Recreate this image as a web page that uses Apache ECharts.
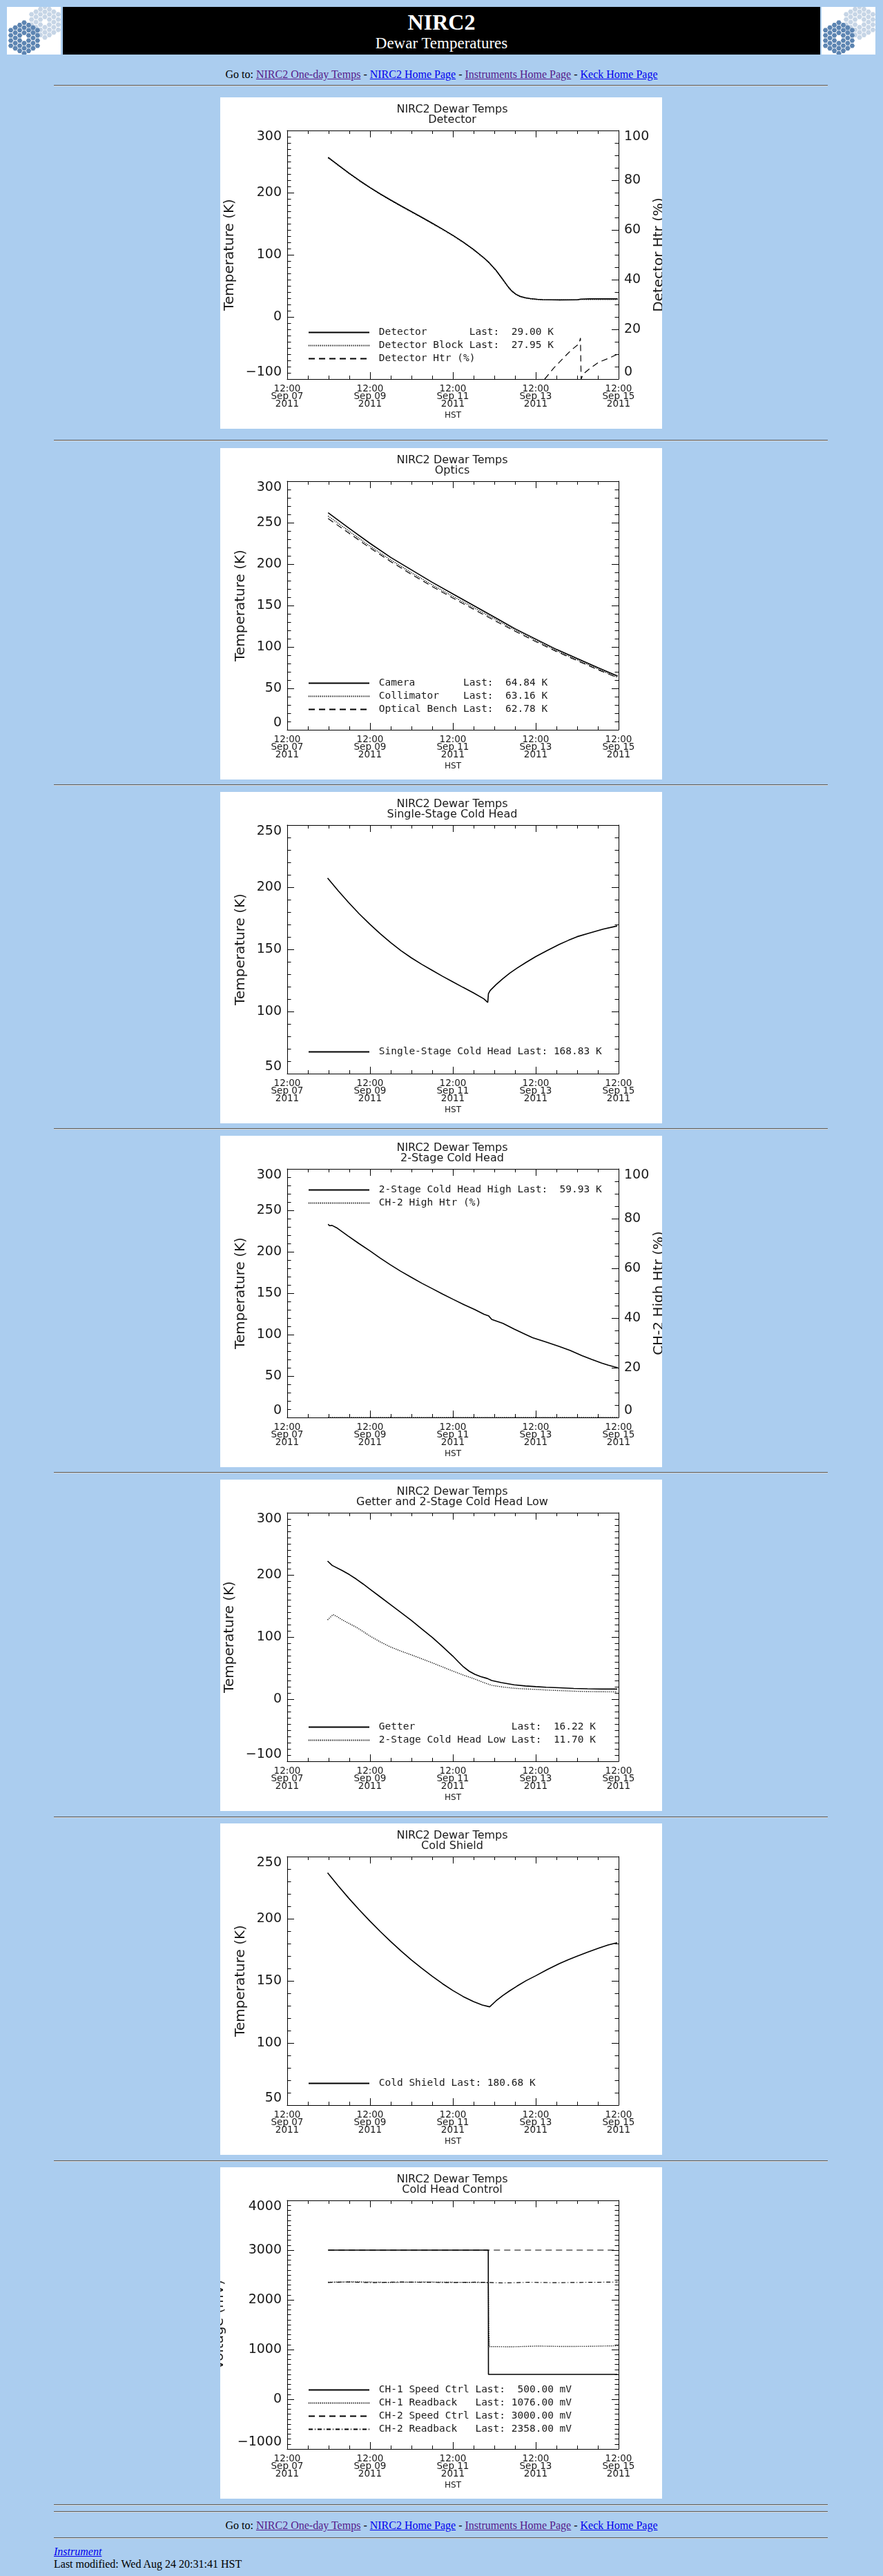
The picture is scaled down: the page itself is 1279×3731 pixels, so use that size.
<!DOCTYPE html>
<html lang="en">
<head>
<meta charset="utf-8">
<title>NIRC2 Dewar Temperatures</title>
<script src="https://cdn.jsdelivr.net/npm/echarts@6.0.0/dist/echarts.min.js"></script>
<style>
  body { margin:0; background:#abcdef; font-family:"Liberation Serif","Times New Roman",serif; font-size:16px; }
  .abs { position:absolute; }
  .hr { position:absolute; left:78px; width:1121px; height:0; border-top:1px solid #5a5a5a; border-bottom:1px solid #d8d8d8; }
  .nav { position:absolute; left:0; width:1279px; text-align:center; line-height:20px; }
  a { color:#0000ee; }
  a.v { color:#551a8b; }
  .logo { position:absolute; top:10px; width:78px; height:69px; background:#fff; overflow:hidden; }
  .chart { position:absolute; left:319px; width:640px; height:480px; background:#fff; }
</style>
</head>
<body>
<div class="logo" style="left:10px"></div>
<div class="abs" style="left:91px;top:10px;width:1097px;height:69px;background:#000;color:#fff;text-align:center">
  <div class="abs" style="left:0;right:0;top:4px;font-size:32px;font-weight:bold;line-height:36px">NIRC2</div>
  <div class="abs" style="left:0;right:0;top:40px;font-size:23px;line-height:26px">Dewar Temperatures</div>
</div>
<div class="logo" style="left:1190px"></div>

<div class="nav" style="top:98px">Go to: <a class="v" href="#">NIRC2 One-day Temps</a> - <a href="#">NIRC2 Home Page</a> - <a class="v" href="#">Instruments Home Page</a> - <a href="#">Keck Home Page</a></div>
<div class="hr" style="top:123px"></div>

<div id="charts"></div>

<div class="hr" style="top:3627px"></div>
<div class="hr" style="top:3637px"></div>
<div class="nav" style="top:3648px">Go to: <a class="v" href="#">NIRC2 One-day Temps</a> - <a href="#">NIRC2 Home Page</a> - <a class="v" href="#">Instruments Home Page</a> - <a href="#">Keck Home Page</a></div>
<div class="hr" style="top:3675px"></div>
<div class="abs" style="left:78px;top:3686px;line-height:20px"><a href="#"><i>Instrument</i></a></div>
<div class="abs" style="left:78px;top:3704px;line-height:20px">Last modified: Wed Aug 24 20:31:41 HST</div>

<script type="text/javascript">
// time is in hours after 12:00 Sep 07 2011 (HST)
var detectorT = [[23.7,256.7],[30,243.5],[36,231],[42,219.2],[48,208.2],[54,197.8],[60,188],[66,178.6],[72,169.4],[78,160.2],[84,150.9],[90,141.3],[96,131.3],[102,120.5],[108,108.5],[114,95],[117,87.3],[121,75],[125,60],[128,48.5],[130,42],[132.5,36.5],[135,33],[138,30.8],[141,29.5],[145,28.3],[148,27.8],[158,27.4],[168,27.5],[170,28.6],[175,29],[191.5,29]];
var detectorBlockT = [[23.7,256],[30,242.9],[36,230.4],[42,218.6],[48,207.6],[54,197.2],[60,187.4],[66,178],[72,168.8],[78,159.6],[84,150.3],[90,140.7],[96,130.7],[102,119.9],[108,107.9],[114,94.5],[117,86.8],[121,74.5],[125,59.5],[128,48],[130,41.5],[132.5,36],[135,32.5],[138,30.3],[141,29],[145,27.9],[148,27.5],[158,27.3],[168,27.4],[170,27.9],[191.5,27.95]];
var detectorHtr = [[149.2,0],[154.4,4.4],[160.9,9.1],[165,11.9],[169.1,14.2],[169.9,16.5],[170.3,0],[171.6,2.1],[176,4.6],[180.6,6.8],[187.1,8.6],[192,10.2]];
var detectorLast = [29.00, 27.95];

var cameraT = [[23.7,262],[36,243],[48,225],[60,208],[72,193],[84,178],[96,164],[108,150],[120,136],[132,122],[144,109.5],[156,97],[168,86],[180,75],[191.5,64.84]];
var collimatorT = [[23.7,258],[36,239.5],[48,221.5],[60,205],[72,189.5],[84,175],[96,161],[108,147.5],[120,134],[132,120.5],[144,108],[156,95.5],[168,84.5],[180,73.5],[191.5,63.16]];
var benchT = [[23.7,255],[36,237],[48,219.5],[60,203],[72,187.5],[84,173],[96,159],[108,145.5],[120,132],[132,119],[144,106.5],[156,94.5],[168,83.5],[180,72.5],[191.5,62.78]];
var opticsLast = [64.84, 63.16, 62.78];

var singleStageT = [[23.4,207.3],[29.5,197.2],[35.6,187.6],[41.7,178.6],[47.9,170.2],[53.9,162.6],[59.9,155.5],[65.9,149],[71.9,143.2],[77.9,138],[83.9,133.2],[89.9,128.4],[95.9,123.9],[101.9,119.4],[107.9,115],[113.9,110.2],[116.2,107.3],[116.6,114.4],[117.6,116.9],[121,121.6],[125,126.5],[129,130.9],[133.2,134.9],[138.5,139.6],[144,144.2],[150.8,149.2],[157.7,154],[163,157.3],[168,160.2],[175,163],[183,166.2],[191.2,168.83]];
var singleStageLast = [168.83];

var twoStageHighT = [[23.7,233.2],[24.5,231.5],[26,231.8],[28.6,229],[35.1,219.3],[41.5,210],[47.9,201.2],[53.7,192.6],[59.6,184.5],[65.7,176.6],[71.9,169.2],[78,162],[84.2,155.3],[90,149],[95.9,142.8],[102.3,136.3],[108.7,130.2],[114,124.6],[116.8,122.4],[118.5,118.3],[125,113.5],[131.5,106.6],[137,101.2],[142.2,96.3],[150,91],[157.7,85.7],[164,80.8],[170.8,74.6],[176.5,70],[182.2,65.7],[186,63.2],[190.4,60.7],[191.5,59.93]];
var ch2HighHtr = [[23.7,0],[191.5,0]];
var twoStageHighLast = [59.93];

var getterT = [[23.4,222.2],[26.1,215.1],[31.9,207],[36,200.5],[40,193.3],[44,185.3],[47.9,177.2],[53.7,165],[59.6,152.6],[65.7,139.8],[71.9,126.7],[78,113],[84.2,99.1],[90,84.5],[95.9,69.4],[99,60.5],[102.1,52],[105.4,45],[108.7,40],[112,36.5],[116,33.2],[118.5,30],[124,26.6],[131.5,23.1],[138,21.3],[144,20.1],[150,19.2],[157.7,18.3],[166,17.3],[174,16.6],[182,16.3],[191.2,16.22]];
var twoStageLowT = [[23.4,127.6],[26.6,136.1],[28.5,133.5],[31.9,127.6],[36,121.5],[40,115.8],[44,108.8],[47.9,101.7],[53.7,92.5],[59.6,84.3],[65.7,77.5],[71.9,71.3],[78,64.8],[84.2,58.3],[90,51.8],[95.9,45.3],[102.3,38.5],[108.7,32.4],[113.5,27],[118.5,22.3],[125,19.5],[131.5,17.5],[138,16.4],[144,15.7],[150,14.7],[157.7,13.8],[166,12.8],[174,12.2],[182,11.9],[191.2,11.7]];
var getterLast = [16.22, 11.70];

var coldShieldT = [[23.4,236.9],[29.5,226.5],[35.6,216.6],[41.7,207.2],[47.9,198.1],[53.9,189.7],[59.9,181.7],[65.9,174.1],[71.9,166.9],[77.9,160.2],[83.9,153.8],[89.9,147.8],[95.9,142.3],[101.9,137.4],[107.9,133.3],[113,130.6],[117.3,129.1],[121,133.9],[125,138.3],[129,142.1],[133.2,145.8],[138.5,150.2],[144,154.1],[150.8,159.2],[157.7,163.9],[163,167.1],[168,169.9],[174,173.1],[180.6,176.4],[186,178.9],[191.2,180.68]];
var coldShieldLast = [180.68];

var ch1Speed = [[23.7,3000],[116.5,3000],[116.6,500],[191.5,500]];
var ch1Readback = [[23.7,2355],[40,2362],[60,2350],[80,2358],[100,2352],[116.5,2348],[116.6,2050],[116.8,1380],[117.2,1060],[130,1055],[145,1070],[160,1062],[175,1065],[191.5,1076]];
var ch2Speed = [[23.7,3000],[191.5,3000]];
var ch2Readback = [[23.7,2350],[35,2358],[50,2345],[65,2360],[80,2352],[95,2348],[110,2356],[125,2340],[140,2352],[155,2345],[170,2350],[191.5,2358]];
var controlLast = [500.00, 1076.00, 3000.00, 2358.00];

var months = ['Jan','Feb','Mar','Apr','May','Jun','Jul','Aug','Sep','Oct','Nov','Dec'];
var start = Date.UTC(2011, 8, 7, 12);

function two(n) { return (n < 10 ? '0' : '') + n; }
function timeLabel(h) {
    var d = new Date(start + h * 3600000);
    return two(d.getUTCHours()) + ':' + two(d.getUTCMinutes()) + '\n' +
        months[d.getUTCMonth()] + ' ' + two(d.getUTCDate()) + '\n' + d.getUTCFullYear();
}
function legendText(names, lasts, unit, w) {
    var n = 0;
    names.forEach(function (s) { n = Math.max(n, s.length); });
    return names.map(function (s, i) {
        return s.padEnd(n) + ' Last: ' + lasts[i].toFixed(2).padStart(w) + ' ' + unit;
    });
}

var styles = {
    solid: { type: 'solid', width: 1.6 },
    dotted: { type: [1.2, 1.6], width: 1.4 },
    dashed: { type: [9, 6], width: 1.2 },
    dashdot: { type: [6, 3, 1, 3], width: 1.2 }
};

var charts = [
    { sub: 'Detector', y: [-100, 300, 100, 10], yName: 'Temperature (K)', gap: 73,
      right: ['Detector Htr (%)', 0, 100, 20, 4], legendTop: 333,
      lines: [['Detector', detectorT, 'solid', 0], ['Detector Block', detectorBlockT, 'dotted', 0], ['Detector Htr (%)', detectorHtr, 'dashed', 1]],
      labels: legendText(['Detector', 'Detector Block'], detectorLast, 'K', 6).concat(['Detector Htr (%)']) },
    { sub: 'Optics', y: [0, 300, 50, 5], yName: 'Temperature (K)', gap: 57, legendTop: 333,
      lines: [['Camera', cameraT, 'solid', 0], ['Collimator', collimatorT, 'dotted', 0], ['Optical Bench', benchT, 'dashed', 0]],
      labels: legendText(['Camera', 'Collimator', 'Optical Bench'], opticsLast, 'K', 6) },
    { sub: 'Single-Stage Cold Head', y: [50, 250, 50, 5], yName: 'Temperature (K)', gap: 57, legendTop: 369,
      lines: [['Single-Stage Cold Head', singleStageT, 'solid', 0]],
      labels: legendText(['Single-Stage Cold Head'], singleStageLast, 'K', 6) },
    { sub: '2-Stage Cold Head', y: [0, 300, 50, 5], yName: 'Temperature (K)', gap: 57,
      right: ['CH-2 High Htr (%)', 0, 100, 20, 4], legendTop: 71,
      lines: [['2-Stage Cold Head High', twoStageHighT, 'solid', 0], ['CH-2 High Htr (%)', ch2HighHtr, 'dotted', 1]],
      labels: legendText(['2-Stage Cold Head High'], twoStageHighLast, 'K', 6).concat(['CH-2 High Htr (%)']) },
    { sub: 'Getter and 2-Stage Cold Head Low', y: [-100, 300, 100, 10], yName: 'Temperature (K)', gap: 73, legendTop: 351,
      lines: [['Getter', getterT, 'solid', 0], ['2-Stage Cold Head Low', twoStageLowT, 'dotted', 0]],
      labels: legendText(['Getter', '2-Stage Cold Head Low'], getterLast, 'K', 6) },
    { sub: 'Cold Shield', y: [50, 250, 50, 5], yName: 'Temperature (K)', gap: 57, legendTop: 369,
      lines: [['Cold Shield', coldShieldT, 'solid', 0]],
      labels: legendText(['Cold Shield'], coldShieldLast, 'K', 6) },
    { sub: 'Cold Head Control', y: [-1000, 4000, 1000, 10], yName: 'Voltage (mV)', gap: 88, legendTop: 315,
      lines: [['CH-1 Speed Ctrl', ch1Speed, 'solid', 0], ['CH-1 Readback', ch1Readback, 'dotted', 0], ['CH-2 Speed Ctrl', ch2Speed, 'dashed', 0], ['CH-2 Readback', ch2Readback, 'dashdot', 0]],
      labels: legendText(['CH-1 Speed Ctrl', 'CH-1 Readback', 'CH-2 Speed Ctrl', 'CH-2 Readback'], controlLast, 'mV', 7) }
];

var chartTops = [141, 649, 1147, 1645, 2143, 2641, 3139];
var hrTops = [637, 1136, 1634, 2132, 2631, 3129];

var ink = '#1a1a1a';
var font = 'DejaVu Sans';

function xAxis(pos, labels) {
    return {
        type: 'value', position: pos, min: 0, max: 192, interval: 48,
        axisLine: { show: true, onZero: false, lineStyle: { color: '#000', width: 1 } },
        axisTick: { show: true, inside: true, length: 10, lineStyle: { color: '#000' } },
        minorTick: { show: true, splitNumber: 4, length: 5, lineStyle: { color: '#000' } },
        splitLine: { show: false },
        axisLabel: { show: labels, margin: 9, formatter: timeLabel, fontFamily: font, fontSize: 13.5,
            lineHeight: 11, color: ink, showMinLabel: true, showMaxLabel: true },
        name: labels ? 'HST' : '', nameLocation: 'middle', nameGap: 47, nameMoveOverlap: false,
        nameTextStyle: { fontFamily: font, fontSize: 12, color: ink }
    };
}
function yAxis(pos, min, max, interval, minor, labels, name, gap) {
    return {
        type: 'value', position: pos, min: min, max: max, interval: interval,
        axisLine: { show: true, onZero: false, lineStyle: { color: '#000', width: 1 } },
        axisTick: { show: true, inside: true, length: 10, lineStyle: { color: '#000' } },
        minorTick: { show: true, splitNumber: minor, length: 5.5, lineStyle: { color: '#000' } },
        splitLine: { show: false },
        axisLabel: { show: labels, margin: 8, fontFamily: font, fontSize: 19, color: ink,
            verticalAlignMinLabel: 'bottom', verticalAlignMaxLabel: 'top',
            formatter: function (v) { return String(v).replace('-', '\u2212'); } },
        name: name || '', nameLocation: 'middle', nameGap: gap, nameMoveOverlap: false,
        nameTextStyle: { fontFamily: font, fontSize: 20, color: ink }
    };
}

var holder = document.getElementById('charts');
charts.forEach(function (c, i) {
    if (i > 0) {
        var hr = document.createElement('div');
        hr.className = 'hr';
        hr.style.top = hrTops[i - 1] + 'px';
        holder.appendChild(hr);
    }
    var el = document.createElement('div');
    el.className = 'chart';
    el.style.top = chartTops[i] + 'px';
    holder.appendChild(el);

    var y = c.y;
    var right = c.right
        ? yAxis('right', c.right[1], c.right[2], c.right[3], c.right[4], true, c.right[0], 49)
        : yAxis('right', y[0], y[1], y[2], y[3], false);
    var labelOf = {};
    c.lines.forEach(function (l, k) { labelOf[l[0]] = ' ' + c.labels[k]; });

    var myChart = echarts.init(el, null, { renderer: 'canvas', width: 640, height: 480 });
    myChart.setOption({
        animation: false,
        backgroundColor: '#fff',
        title: {
            text: 'NIRC2 Dewar Temps\n' + c.sub, left: 336, top: 10, textAlign: 'center', padding: 0,
            textStyle: { fontFamily: font, fontSize: 16, fontWeight: 'normal', lineHeight: 15.5, color: ink }
        },
        grid: { left: 97, top: 48, width: 480, height: 360, containLabel: false, outerBoundsMode: 'none' },
        legend: {
            orient: 'vertical', left: 127, top: c.legendTop, padding: 0,
            itemWidth: 88, itemHeight: 14, itemGap: 4, selectedMode: false,
            data: c.lines.map(function (l) { return l[0]; }),
            formatter: function (name) { return labelOf[name]; },
            itemStyle: { color: 'rgba(0,0,0,0)', borderWidth: 0 },
            textStyle: { fontFamily: 'DejaVu Sans Mono', fontSize: 14.5, lineHeight: 14, color: ink }
        },
        xAxis: [xAxis('bottom', true), xAxis('top', false)],
        yAxis: [yAxis('left', y[0], y[1], y[2], y[3], true, c.yName, c.gap), right],
        series: c.lines.map(function (l) {
            return {
                type: 'line', name: l[0], data: l[1], xAxisIndex: 0, yAxisIndex: l[3],
                symbol: 'none', showSymbol: false, silent: true, color: '#000',
                itemStyle: { color: '#000' },
                lineStyle: { color: '#000', width: styles[l[2]].width, type: styles[l[2]].type }
            };
        })
    });
});

// hexagon mirror logo (Keck style)
function logoSvg() {
    var s = 4.3, out = '';
    var clusters = [{ x: 55, y: 22, fill: '#c6d5e6' }, { x: 25, y: 45, fill: '#5d85b2' }];
    clusters.forEach(function (c) {
        for (var q = -3; q <= 3; q++) {
            for (var r = -3; r <= 3; r++) {
                var t = -q - r;
                if (Math.max(Math.abs(q), Math.abs(r), Math.abs(t)) > 3 || (q === 0 && r === 0)) continue;
                var cx = c.x + s * 1.5 * q, cy = c.y + s * Math.sqrt(3) * (r + q / 2);
                var pts = [];
                for (var k = 0; k < 6; k++) {
                    var a = Math.PI / 3 * k;
                    pts.push((cx + s * 0.88 * Math.cos(a)).toFixed(1) + ',' + (cy + s * 0.88 * Math.sin(a)).toFixed(1));
                }
                out += '<polygon points="' + pts.join(' ') + '" fill="' + c.fill + '"/>';
            }
        }
    });
    return '<svg width="78" height="69" xmlns="http://www.w3.org/2000/svg">' + out + '</svg>';
}
Array.prototype.forEach.call(document.querySelectorAll('.logo'), function (d) { d.innerHTML = logoSvg(); });
</script>
</body>
</html>
